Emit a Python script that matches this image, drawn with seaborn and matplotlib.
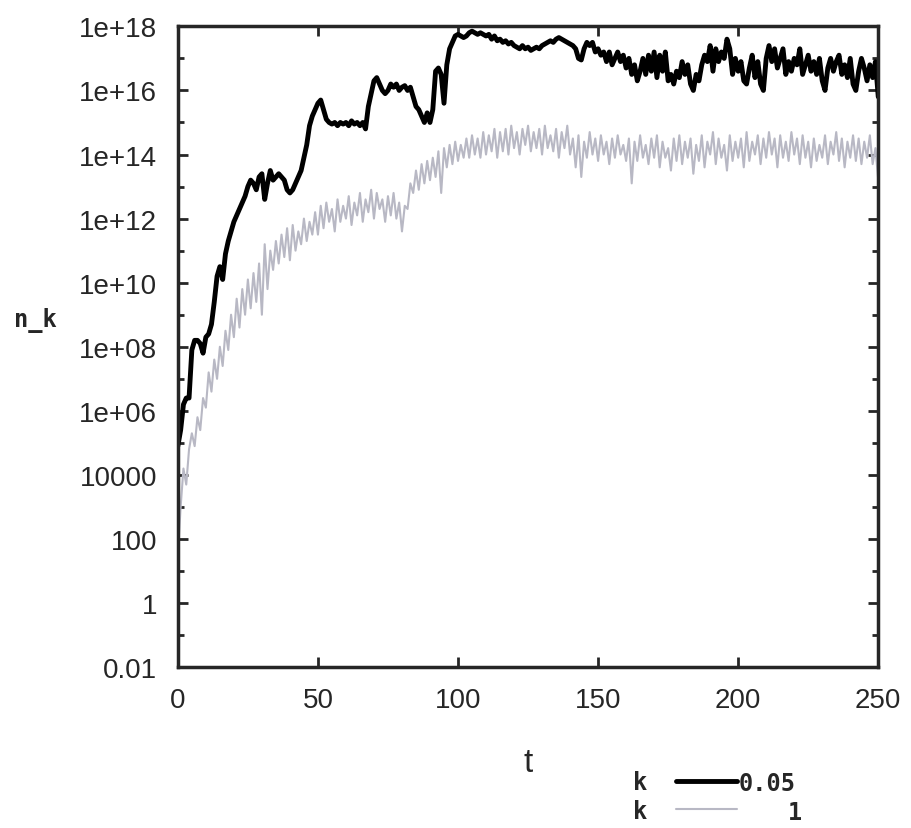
import numpy as np
import pandas as pd
import matplotlib
matplotlib.use("Agg")
import matplotlib.pyplot as plt
import seaborn as sns
from matplotlib.ticker import FixedLocator, NullFormatter

# t = 0..250 in steps of 1, values are log10(n_k)
t_vals = list(range(0, 251))

logn_k005 = [
    4.9, 5.4, 6.2, 6.4, 6.4, 7.9, 8.2, 8.2, 8.1, 7.8,
    8.3, 8.4, 8.7, 9.4, 10.2, 10.5, 10.1, 10.9, 11.3, 11.6,
    11.9, 12.1, 12.3, 12.5, 12.7, 13.0, 13.2, 13.1, 12.9, 13.3,
    13.4, 12.6, 13.1, 13.5, 13.2, 13.3, 13.4, 13.3, 13.2, 12.9,
    12.8, 12.9, 13.1, 13.3, 13.5, 13.9, 14.3, 14.9, 15.2, 15.4,
    15.6, 15.7, 15.4, 15.1, 15.0, 14.95, 15.0, 14.9, 15.0, 14.95,
    15.0, 14.9, 15.05, 14.95, 15.0, 14.9, 15.0, 14.8, 15.5, 15.9,
    16.3, 16.4, 16.2, 16.0, 15.9, 16.0, 16.2, 16.1, 16.2, 16.0,
    16.1, 16.15, 16.0, 16.1, 15.8, 15.5, 15.4, 15.2, 15.0, 15.3,
    15.0, 15.4, 16.6, 16.7, 16.5, 15.6, 16.8, 17.3, 17.5, 17.7,
    17.75, 17.7, 17.65, 17.7, 17.8, 17.85, 17.8, 17.75, 17.8, 17.75,
    17.7, 17.75, 17.6, 17.7, 17.55, 17.6, 17.5, 17.55, 17.45, 17.5,
    17.4, 17.35, 17.3, 17.4, 17.3, 17.35, 17.25, 17.3, 17.35, 17.3,
    17.4, 17.45, 17.5, 17.55, 17.5, 17.6, 17.65, 17.6, 17.55, 17.5,
    17.45, 17.4, 17.3, 17.0, 16.95, 17.3, 17.5, 17.4, 17.5, 17.2,
    17.3, 17.1, 17.2, 16.9, 17.2, 16.8, 17.0, 17.2, 16.9, 17.1,
    16.7, 17.0, 16.5, 16.8, 16.3, 16.6, 17.0, 16.5, 17.1, 16.6,
    17.2, 16.4, 17.1, 16.6, 17.2, 16.3, 16.5, 16.2, 16.6, 16.4,
    16.9, 16.5, 16.8, 16.2, 16.0, 16.5, 16.3, 16.8, 17.1, 16.9,
    17.4, 16.6, 17.3, 16.9, 17.2, 17.0, 17.6, 17.3, 16.5, 17.0,
    16.6, 16.9, 16.3, 16.2, 16.7, 17.1, 16.4, 16.9, 16.2, 16.0,
    17.0, 17.4, 16.9, 17.3, 16.7, 17.0, 17.3, 16.5, 16.9, 16.6,
    17.0, 16.8, 17.3, 16.5, 16.8, 17.1, 16.6, 16.9, 16.5, 17.0,
    16.3, 16.0, 16.7, 17.0, 16.6, 16.9, 17.1, 16.5, 16.8, 16.4,
    17.0, 16.2, 16.0, 16.6, 17.0, 16.7, 16.3, 16.8, 16.4, 16.9,
    15.8,
]

logn_k1 = [
    1.5, 3.0, 4.2, 3.7, 4.8, 5.3, 4.9, 5.8, 5.4, 6.4,
    6.1, 7.2, 6.6, 7.6, 7.0, 8.0, 7.4, 8.5, 7.9, 9.0,
    8.3, 9.5, 8.6, 9.8, 9.0, 10.1, 9.2, 10.3, 9.4, 10.6,
    9.0, 11.2, 9.8, 11.0, 10.4, 11.3, 10.6, 11.5, 10.8, 11.7,
    10.7, 11.8, 11.0, 11.6, 11.2, 12.0, 11.3, 11.9, 11.5, 12.2,
    11.5, 12.4, 11.7, 12.5, 11.9, 12.3, 11.6, 12.6, 11.9, 12.4,
    12.0, 12.7, 11.8, 12.5, 12.1, 12.8, 11.9, 12.6, 12.2, 12.9,
    12.0, 12.8, 12.3, 12.6, 11.9, 12.7, 12.1, 12.8, 12.0, 12.5,
    11.6, 12.4, 12.3, 13.1, 12.8, 13.5, 12.9, 13.7, 13.1, 13.8,
    13.2, 13.9, 13.3, 14.1, 12.8, 14.2, 13.6, 14.3, 13.7, 14.4,
    13.8, 14.3, 13.9, 14.5, 13.9, 14.6, 14.0, 14.5, 13.9, 14.7,
    14.0, 14.6, 14.1, 14.8, 13.9, 14.7, 14.1, 14.8, 14.0, 14.9,
    14.2, 14.7, 14.0, 14.8, 14.3, 14.9, 14.1, 14.7, 14.2, 14.8,
    14.0, 14.9, 14.2, 14.6, 14.1, 14.8, 13.9, 14.7, 14.2, 14.9,
    14.0, 14.5, 13.6, 14.6, 13.3, 14.4, 13.9, 14.7, 14.0, 14.5,
    13.8, 14.6, 14.0, 14.4, 13.7, 14.5, 13.9, 14.6, 14.0, 14.3,
    13.8, 14.5, 13.1, 14.4, 13.8, 14.6, 13.9, 14.3, 13.7, 14.5,
    13.9, 14.6, 13.6, 14.4, 13.9, 14.2, 13.5, 14.5, 13.8, 14.6,
    13.7, 14.4, 13.9, 14.5, 13.4, 14.3, 13.8, 14.6, 13.6, 14.4,
    14.0, 14.7, 13.7, 14.5, 13.9, 14.3, 13.5, 14.6, 13.8, 14.4,
    13.9, 14.5, 13.6, 14.7, 13.8, 14.4, 14.0, 14.6, 13.7, 14.5,
    13.9, 14.7, 14.0, 14.5, 13.6, 14.6, 13.9, 14.4, 13.8, 14.7,
    14.0, 14.5, 13.7, 14.6, 13.9, 14.4, 13.6, 14.5, 13.8, 14.3,
    13.9, 14.6, 13.7, 14.4, 14.0, 14.7, 13.8, 14.5, 13.6, 14.4,
    13.9, 14.6, 13.8, 14.5, 13.7, 14.4, 13.9, 14.6, 13.7, 14.2,
    13.2,
]

ytick_exp = list(range(-2, 19, 2))
ytick_labels = ["0.01", "1", "100", "10000", "1e+06", "1e+08", "1e+10",
                "1e+12", "1e+14", "1e+16", "1e+18"]
xtick_vals = [0, 50, 100, 150, 200, 250]

df = pd.DataFrame({
    "t": t_vals * 2,
    "n": 10.0 ** np.array(logn_k005 + logn_k1),
    "k": ["0.05"] * len(t_vals) + ["1"] * len(t_vals),
})

sns.set_style("ticks")
plt.rcParams["font.family"] = ["Liberation Sans", "DejaVu Sans"]

fig = plt.figure(figsize=(9.12, 8.29), dpi=100)
ax = fig.add_axes([0.195, 0.194, 0.768, 0.773])

sns.lineplot(data=df[df["k"] == "1"], x="t", y="n", color="#b8b8c4",
             linewidth=1.5, ax=ax, estimator=None, legend=False)
sns.lineplot(data=df[df["k"] == "0.05"], x="t", y="n", color="black",
             linewidth=3.5, ax=ax, estimator=None, legend=False)

ax.set_yscale("log")
ax.set_xlim(0, 250)
ax.set_ylim(1e-2, 1e18)
ax.set_yticks([10.0 ** e for e in ytick_exp])
ax.set_yticklabels(ytick_labels)
ax.yaxis.set_minor_locator(FixedLocator([10.0 ** e for e in range(-1, 18, 2)]))
ax.yaxis.set_minor_formatter(NullFormatter())
ax.set_xticks(xtick_vals)
ax.set_xticklabels([str(v) for v in xtick_vals])

for s in ax.spines.values():
    s.set_linewidth(2.5)
    s.set_visible(True)
ax.tick_params(axis="both", which="major", direction="in", length=7, width=2,
               labelsize=20, top=True, right=True)
ax.tick_params(axis="y", which="minor", direction="in", length=4, width=2,
               left=True, right=True)
ax.tick_params(axis="y", which="major", pad=15)
ax.tick_params(axis="x", which="major", pad=14)

mono = {"family": "DejaVu Sans Mono", "weight": "bold", "size": 17}
ax.set_ylabel("n_k", rotation=0, fontdict=mono, ha="center", va="center")
ax.yaxis.set_label_coords(-0.203, 0.543)
ax.set_xlabel("t", fontsize=24)
ax.xaxis.set_label_coords(0.5, -0.124)

handles = [ax.lines[1], ax.lines[0]]
leg = fig.legend(handles, ["k", "k"], loc="upper left", bbox_to_anchor=(633 / 912, 0.070),
                 frameon=False, markerfirst=False, handlelength=2.6, handletextpad=1.2,
                 labelspacing=0.2, borderpad=0, borderaxespad=0,
                 prop={"family": "DejaVu Sans Mono", "weight": "bold", "size": 17})
fig.text(0.810, 0.0545, "0.05", ha="left", va="center", fontdict=mono)
fig.text(0.879, 0.0195, "1", ha="right", va="center", fontdict=mono)

fig.savefig("out.png", dpi=100)
